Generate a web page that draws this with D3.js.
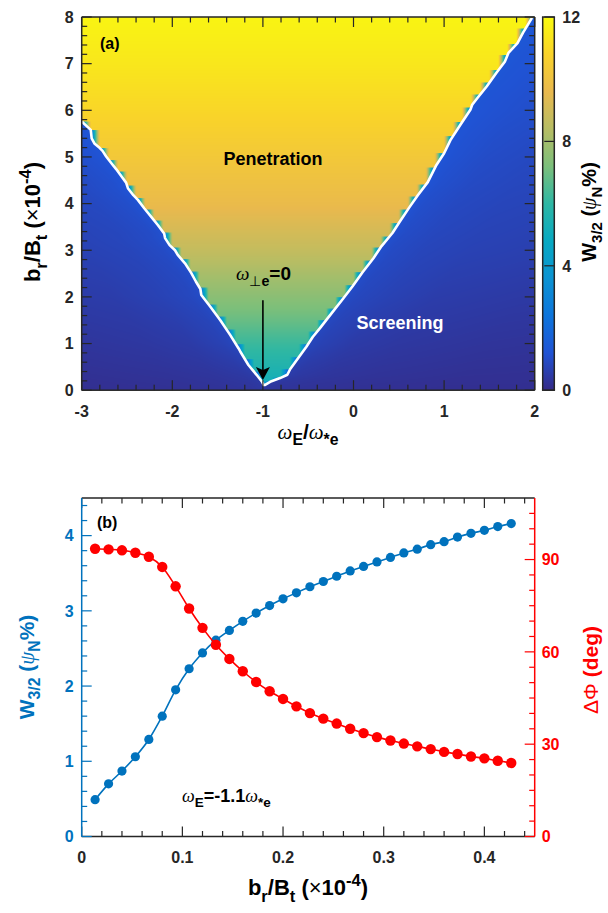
<!DOCTYPE html>
<html>
<head>
<meta charset="utf-8">
<script src="https://cdn.jsdelivr.net/npm/d3@7"></script>
<style>
  body { margin: 0; background: #fff; }
  svg text { font-family: "Liberation Sans", Arial, sans-serif; font-weight: bold; }
</style>
</head>
<body>
<svg id="fig" width="608" height="913"></svg>
<script>
// ---------- panel (a): W_3/2 map over (omega_E/omega_*e, b_r/B_t) ----------
// white contour (omega_perp_e = 0 boundary), left branch from top down to the vertex
const leftEdgeX = [-3.0, -2.9, -2.89, -2.86, -2.8, -2.77, -2.73, -2.67, -2.62, -2.56, -2.51, -2.49, -2.43, -2.38,
  -2.31, -2.23, -2.16, -2.09, -2.08, -2.03, -1.97, -1.94, -1.86, -1.79, -1.74, -1.69, -1.68, -1.58, -1.47, -1.36,
  -1.27, -1.25, -1.16, -1.07, -1.01, -0.99];
const leftEdgeY = [5.76, 5.58, 5.4, 5.29, 5.19, 5.13, 5.01, 4.86, 4.74, 4.58, 4.45, 4.33, 4.18, 4.08,
  3.9, 3.71, 3.54, 3.36, 3.26, 3.11, 3.0, 2.9, 2.72, 2.51, 2.33, 2.17, 2.04, 1.79, 1.5, 1.18,
  0.9, 0.83, 0.54, 0.33, 0.18, 0.11];
// right branch from the vertex up to the top
const rightEdgeX = [-0.98, -0.92, -0.81, -0.73, -0.7, -0.61, -0.52, -0.45, -0.37, -0.31, -0.23, -0.12, -0.01,
  0.1, 0.22, 0.31, 0.43, 0.51, 0.62, 0.71, 0.82, 0.91, 1.0, 1.07, 1.18, 1.29, 1.31, 1.37, 1.47, 1.58, 1.67,
  1.71, 1.81, 1.87, 1.97];
const rightEdgeY = [0.11, 0.18, 0.26, 0.33, 0.45, 0.69, 0.93, 1.14, 1.33, 1.48, 1.68, 1.95, 2.23,
  2.53, 2.83, 3.09, 3.37, 3.61, 3.93, 4.18, 4.46, 4.81, 5.08, 5.36, 5.69, 6.01, 6.12, 6.27, 6.51, 6.81, 7.04,
  7.23, 7.44, 7.66, 7.98];

// island width inside the penetration region, by b_r/B_t
const penY = [0, 0.5, 1, 1.5, 2, 2.5, 3, 4, 5, 6, 7, 8];
const penW = [5.0, 5.6, 6.2, 6.9, 7.5, 8.1, 8.7, 9.7, 10.3, 10.9, 11.4, 11.8];

// island width in the screening region: rows by b_r/B_t, columns by distance from the contour
const scrY = [0, 1, 2, 3, 4, 5, 6, 7, 8];
const scrDist = [0, 0.15, 0.5, 1, 2, 3];
const scrW = [
  [0.4, 0.3, 0.25, 0.2, 0.15, 0.15],
  [0.85, 0.7, 0.5, 0.4, 0.3, 0.25],
  [1.0, 0.85, 0.7, 0.55, 0.45, 0.4],
  [1.1, 0.95, 0.8, 0.7, 0.6, 0.55],
  [1.2, 1.05, 0.9, 0.8, 0.7, 0.65],
  [1.25, 1.15, 1.0, 0.9, 0.8, 0.75],
  [1.3, 1.2, 1.1, 1.0, 0.9, 0.85],
  [1.35, 1.25, 1.15, 1.05, 1.0, 0.95],
  [1.4, 1.3, 1.2, 1.1, 1.05, 1.0]
];
const gridStep = 0.1;   // omega_E spacing of the scan

const xTicksA = [-3, -2, -1, 0, 1, 2];
const yTicksA = [0, 1, 2, 3, 4, 5, 6, 7, 8];
const cbTicks = [0, 4, 8, 12];

// ---------- panel (b): scan at omega_E = -1.1 omega_*e ----------
const brScan = [0.0133, 0.0267, 0.04, 0.0533, 0.0667, 0.08, 0.0933, 0.1067, 0.12, 0.1333, 0.1467, 0.16,
  0.1733, 0.1867, 0.2, 0.2133, 0.2267, 0.24, 0.2533, 0.2667, 0.28, 0.2933, 0.3067, 0.32, 0.3333, 0.3467,
  0.36, 0.3733, 0.3867, 0.4, 0.4133, 0.4267];
const wScan = [0.49, 0.70, 0.87, 1.06, 1.29, 1.60, 1.95, 2.23, 2.44, 2.61, 2.74, 2.86, 2.97, 3.07, 3.16, 3.24,
  3.32, 3.39, 3.46, 3.53, 3.59, 3.65, 3.71, 3.77, 3.82, 3.88, 3.92, 3.98, 4.03, 4.07, 4.12, 4.16];
const phaseScan = [93.5, 93.3, 93.0, 92.2, 90.9, 87.6, 81.3, 74.1, 67.8, 62.3, 57.7, 53.7, 50.2, 47.2, 44.7,
  42.3, 40.1, 38.3, 36.7, 35.0, 33.6, 32.3, 31.2, 30.2, 29.3, 28.4, 27.5, 26.8, 26.0, 25.4, 24.6, 23.9];

const xTicksB = [0, 0.1, 0.2, 0.3, 0.4];
const yTicksBL = [0, 1, 2, 3, 4];
const yTicksBR = [0, 30, 60, 90];

const parula = ["#352a87", "#2053d4", "#0d75dc", "#0c93d2", "#07a9c2", "#2eb7a4",
  "#7cbf7b", "#b7bd64", "#e9b94e", "#f9d32a", "#f9fb0e"];

const BLUE = "#0072bd", RED = "#ff0000", AX = "#262626";

const svg = d3.select("#fig");

const xA = d3.scaleLinear().domain([-3, 2]).range([81.7, 534.7]);
const yA = d3.scaleLinear().domain([0, 8]).range([390.2, 17]);
const xB = d3.scaleLinear().domain([0, 0.45]).range([81.7, 534.7]);
const yBL = d3.scaleLinear().domain([0, 4.5]).range([836.5, 498]);
const yBR = d3.scaleLinear().domain([0, 110]).range([836.5, 498]);

const colorOf = d3.scaleLinear()
  .domain(parula.map((c, i) => 12 * i / (parula.length - 1)))
  .range(parula).clamp(true);

// rich label: parts of {t, sub, sup, it, thin}
function rich(g, parts, size) {
  let cur = 0;
  parts.forEach(p => {
    const shift = p.sub ? 0.3 * size : p.sup ? -0.42 * size : 0;
    const ts = g.append("tspan").text(p.t)
      .attr("dy", shift - cur)
      .attr("font-size", p.sub || p.sup ? size * 0.75 : size);
    if (p.it) ts.attr("font-style", "italic").attr("font-weight", "normal").attr("font-family", "'Liberation Serif', serif");
    if (p.thin) ts.attr("font-weight", "normal");
    cur = shift;
  });
  return g;
}

// ---------- heat map ----------
const lSorted = d3.zip(leftEdgeY, leftEdgeX).sort((a, b) => a[0] - b[0]);
const rSorted = d3.zip(rightEdgeY, rightEdgeX).sort((a, b) => a[0] - b[0]);
const leftOf = d3.scaleLinear().domain(lSorted.map(d => d[0])).range(lSorted.map(d => d[1]));
const rightOf = d3.scaleLinear().domain(rSorted.map(d => d[0])).range(rSorted.map(d => d[1]));
const leftTop = d3.max(leftEdgeY), rightTop = d3.max(rightEdgeY), vertexY = d3.min(leftEdgeY);
const penOf = d3.scaleLinear().domain(penY).range(penW).clamp(true);
const scrRows = scrW.map(row => d3.scaleLinear().domain(scrDist).range(row).clamp(true));
function scrAt(y, d) {
  const k = Math.max(0, Math.min(scrY.length - 2, d3.bisectRight(scrY, y) - 1));
  const t = Math.max(0, Math.min(1, (y - scrY[k]) / (scrY[k + 1] - scrY[k])));
  return scrRows[k](d) * (1 - t) + scrRows[k + 1](d) * t;
}
const lut = d3.range(1201).map(k => d3.rgb(colorOf(k / 100)));

const [px0, px1] = xA.range();
const [py1, py0] = yA.range();
const ss = 2;
const cw = Math.round((px1 - px0) * ss), ch = Math.round((py1 - py0) * ss);
const canvas = document.createElement("canvas");
canvas.width = cw; canvas.height = ch;
const ctx = canvas.getContext("2d");
const img = ctx.createImageData(cw, ch);
for (let j = 0; j < ch; j++) {
  const yv = yA.invert(py0 + (j + 0.5) / ss);
  const xl = yv > leftTop ? -Infinity : leftOf(yv);
  const xr = yv > rightTop ? Infinity : rightOf(yv);
  const p = penOf(yv);
  for (let i = 0; i < cw; i++) {
    const xv = xA.invert(px0 + (i + 0.5) / ss);
    let v;
    if (yv >= vertexY && xv > xl && xv < xr) {
      const s = scrAt(yv, 0);
      let t = 1;
      if (isFinite(xl)) {
        const n = Math.ceil(xl / gridStep - 1e-9) * gridStep;
        if (xv < n) t = Math.min(t, (xv - (n - gridStep)) / gridStep);
      }
      if (isFinite(xr)) {
        const n = Math.floor(xr / gridStep + 1e-9) * gridStep;
        if (xv > n) t = Math.min(t, (n + gridStep - xv) / gridStep);
      }
      v = s + (p - s) * t;
    } else {
      let d;
      if (yv < vertexY) d = Math.abs(xv + 1);
      else d = xv <= xl ? xl - xv : xv - xr;
      v = scrAt(yv, d);
    }
    const c = lut[Math.round(Math.max(0, Math.min(12, v)) * 100)];
    const o = (j * cw + i) * 4;
    img.data[o] = c.r; img.data[o + 1] = c.g; img.data[o + 2] = c.b; img.data[o + 3] = 255;
  }
}
ctx.putImageData(img, 0, 0);

const panelA = svg.append("g");
panelA.append("image")
  .attr("href", canvas.toDataURL())
  .attr("x", px0).attr("y", py0)
  .attr("width", px1 - px0).attr("height", py1 - py0)
  .attr("preserveAspectRatio", "none");

// contour line
const contour = d3.zip(leftEdgeX, leftEdgeY).concat(d3.zip(rightEdgeX, rightEdgeY));
panelA.append("path")
  .datum(contour)
  .attr("fill", "none").attr("stroke", "#fff").attr("stroke-width", 2.6)
  .attr("stroke-linejoin", "round")
  .attr("d", d3.line().x(d => xA(d[0])).y(d => yA(d[1])));

// colorbar
const cbX = 542.7, cbW = 11.6;
const cbScale = d3.scaleLinear().domain([0, 12]).range([yA(0), yA(8)]);
const grad = svg.append("defs").append("linearGradient")
  .attr("id", "parula").attr("x1", 0).attr("y1", 1).attr("x2", 0).attr("y2", 0);
grad.selectAll("stop").data(parula).join("stop")
  .attr("offset", (d, i) => i / (parula.length - 1))
  .attr("stop-color", d => d);
panelA.append("rect")
  .attr("x", cbX).attr("y", cbScale(12)).attr("width", cbW).attr("height", cbScale(0) - cbScale(12))
  .attr("fill", "url(#parula)");
panelA.append("g").selectAll("text").data(cbTicks).join("text")
  .attr("x", cbX + cbW + 8).attr("y", d => cbScale(d)).attr("dy", "0.36em")
  .attr("font-size", 16).attr("fill", AX)
  .text(d => String(d));

// panel (a) labels
panelA.append("text").attr("x", 100).attr("y", 49).attr("font-size", 16).text("(a)");
panelA.append("text").attr("x", 273).attr("y", 165).attr("font-size", 18).attr("text-anchor", "middle").text("Penetration");
panelA.append("text").attr("x", 400).attr("y", 329).attr("font-size", 18).attr("text-anchor", "middle")
  .attr("fill", "#fff").text("Screening");
rich(panelA.append("text").attr("x", 236).attr("y", 280),
  [{t: "ω", it: true}, {t: "⊥", sub: true, thin: true}, {t: "e", sub: true}, {t: "=0"}], 19);

// arrow to the vertex
const arrowFrom = [-1, 1.93], arrowTo = [-1, 0.22];
panelA.append("line")
  .attr("x1", xA(arrowFrom[0])).attr("y1", yA(arrowFrom[1]))
  .attr("x2", xA(arrowTo[0])).attr("y2", yA(arrowTo[1]) - 8)
  .attr("stroke", "#000").attr("stroke-width", 1.6);
panelA.append("path")
  .attr("d", `M${xA(arrowTo[0])},${yA(arrowTo[1])} l-7,-13 l7,3 l7,-3 z`)
  .attr("fill", "#000");

rich(panelA.append("text").attr("x", 308).attr("y", 439).attr("text-anchor", "middle"),
  [{t: "ω", it: true}, {t: "E", sub: true}, {t: "/"}, {t: "ω", it: true}, {t: "*e", sub: true}], 21);
rich(panelA.append("text").attr("transform", "translate(40,222) rotate(-90)").attr("text-anchor", "middle"),
  [{t: "b"}, {t: "r", sub: true}, {t: "/B"}, {t: "t", sub: true}, {t: " ("}, {t: "×", thin: true}, {t: "10"},
   {t: "-4", sup: true}, {t: ")"}], 22);
rich(panelA.append("text").attr("transform", "translate(596,212) rotate(-90)").attr("text-anchor", "middle"),
  [{t: "W"}, {t: "3/2", sub: true}, {t: " ("}, {t: "ψ", it: true}, {t: "N", sub: true}, {t: "%"}, {t: ")"}], 20);

// ---------- panel (b) ----------
const panelB = svg.append("g");
const wPts = d3.zip(brScan, wScan), phPts = d3.zip(brScan, phaseScan);
panelB.append("path").datum(wPts)
  .attr("fill", "none").attr("stroke", BLUE).attr("stroke-width", 1.6)
  .attr("d", d3.line().curve(d3.curveMonotoneX).x(d => xB(d[0])).y(d => yBL(d[1])));
panelB.append("g").selectAll("circle").data(wPts).join("circle")
  .attr("cx", d => xB(d[0])).attr("cy", d => yBL(d[1])).attr("r", 4.6).attr("fill", BLUE);
panelB.append("path").datum(phPts)
  .attr("fill", "none").attr("stroke", RED).attr("stroke-width", 1.6)
  .attr("d", d3.line().curve(d3.curveMonotoneX).x(d => xB(d[0])).y(d => yBR(d[1])));
panelB.append("g").selectAll("circle").data(phPts).join("circle")
  .attr("cx", d => xB(d[0])).attr("cy", d => yBR(d[1])).attr("r", 5.2).attr("fill", RED);

panelB.append("text").attr("x", 97).attr("y", 528).attr("font-size", 16).text("(b)");
rich(panelB.append("text").attr("x", 182).attr("y", 802),
  [{t: "ω", it: true}, {t: "E", sub: true}, {t: "=-1.1"}, {t: "ω", it: true}, {t: "*e", sub: true}], 18);

rich(panelB.append("text").attr("x", 308).attr("y", 895).attr("text-anchor", "middle"),
  [{t: "b"}, {t: "r", sub: true}, {t: "/B"}, {t: "t", sub: true}, {t: " ("}, {t: "×", thin: true}, {t: "10"},
   {t: "-4", sup: true}, {t: ")"}], 22);
rich(panelB.append("text").attr("transform", "translate(34,667) rotate(-90)").attr("text-anchor", "middle")
  .attr("fill", BLUE),
  [{t: "W"}, {t: "3/2", sub: true}, {t: " ("}, {t: "ψ", it: true}, {t: "N", sub: true}, {t: "%"}, {t: ")"}], 21);
rich(panelB.append("text").attr("transform", "translate(598,670) rotate(-90)").attr("text-anchor", "middle")
  .attr("fill", RED),
  [{t: "Δ", thin: true}, {t: "Φ", thin: true}, {t: " (deg)"}], 21);

// ---------- axes, drawn last on top: inward ticks along each side ----------
// where: "bottom" | "top" | "left" | "right"; pos = pixel position of the axis line
function side(where, scale, pos, major, minor, color, labels, pad) {
  const g = svg.append("g");
  const horiz = where === "bottom" || where === "top";
  const dir = where === "bottom" || where === "right" ? -1 : 1;
  const r = scale.range();
  const all = major.map(v => ({v, len: 10}))
    .concat(minor.filter(v => !major.some(m => Math.abs(m - v) < 1e-9)).map(v => ({v, len: 5.5})));
  g.append("rect")
    .attr("x", horiz ? Math.min(r[0], r[1]) : pos - 0.75)
    .attr("y", horiz ? pos - 0.75 : Math.min(r[0], r[1]))
    .attr("width", horiz ? Math.abs(r[1] - r[0]) : 1.5)
    .attr("height", horiz ? 1.5 : Math.abs(r[1] - r[0]))
    .style("fill", color);
  g.append("g").selectAll("rect").data(all).join("rect")
    .attr("x", d => horiz ? scale(d.v) - 0.6 : Math.min(pos, pos + dir * d.len))
    .attr("y", d => horiz ? Math.min(pos, pos + dir * d.len) : scale(d.v) - 0.6)
    .attr("width", d => horiz ? 1.2 : d.len)
    .attr("height", d => horiz ? d.len : 1.2)
    .style("fill", color);
  if (!labels) return;
  g.append("g").selectAll("text").data(major).join("text")
    .attr("x", d => horiz ? scale(d) : pos + (where === "left" ? -pad : pad))
    .attr("y", d => horiz ? pos + pad : scale(d))
    .attr("dy", horiz ? "0.72em" : "0.36em")
    .attr("text-anchor", horiz ? "middle" : where === "left" ? "end" : "start")
    .attr("font-size", 16).attr("fill", color)
    .text(d => String(d));
}

const minorXA = d3.range(-3, 2.001, 0.2).map(d => +d.toFixed(1));
const minorYA = d3.range(0, 8.001, 0.2).map(d => +d.toFixed(1));
side("bottom", xA, yA(0), xTicksA, minorXA, AX, true, 15);
side("top", xA, yA(8), xTicksA, minorXA, AX, false);
side("left", yA, xA(-3), yTicksA, minorYA, AX, true, 8);
side("right", yA, xA(2), yTicksA, minorYA, AX, false);

// colorbar outline and ticks
side("left", cbScale, cbX, [], [], AX, false);
side("right", cbScale, cbX + cbW, cbTicks, [], AX, false);
side("top", d3.scaleLinear().domain([0, 1]).range([cbX - 0.75, cbX + cbW + 0.75]), cbScale(12), [], [], AX, false);
side("bottom", d3.scaleLinear().domain([0, 1]).range([cbX - 0.75, cbX + cbW + 0.75]), cbScale(0), [], [], AX, false);

const minorXB = d3.range(0, 0.4401, 0.02).map(d => +d.toFixed(2));
const minorYBL = d3.range(0, 4.401, 0.2).map(d => +d.toFixed(1));
const minorYBR = d3.range(0, 106, 5);
side("bottom", xB, yBL(0), xTicksB, minorXB, AX, true, 15);
side("top", xB, yBL(4.5), xTicksB, minorXB, AX, false);
side("left", yBL, xB(0), yTicksBL, minorYBL, BLUE, true, 8);
side("right", yBR, xB(0.45), yTicksBR, minorYBR, RED, true, 7);
</script>
</body>
</html>
